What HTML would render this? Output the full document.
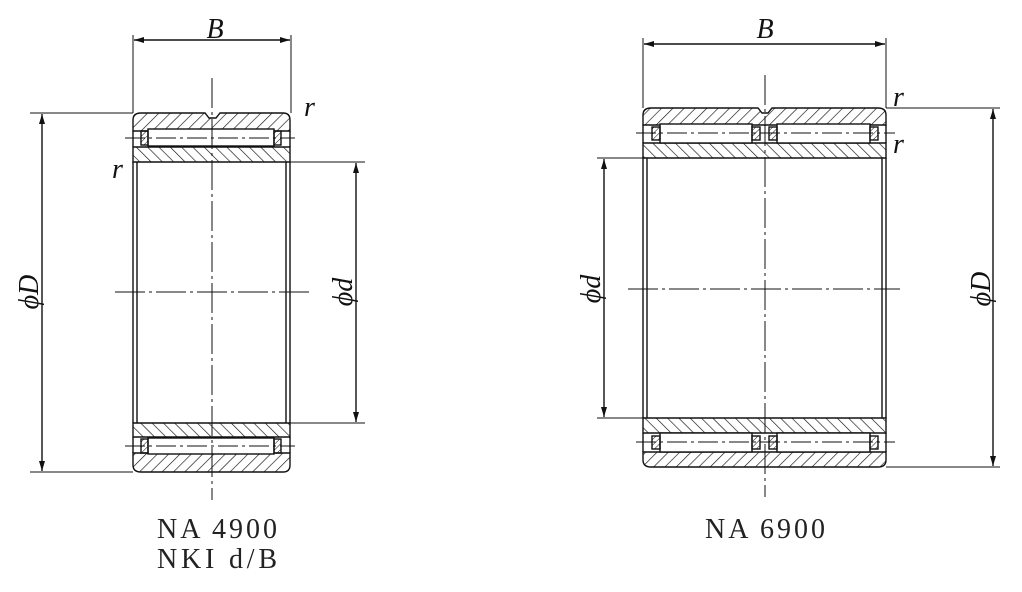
<!DOCTYPE html>
<html><head><meta charset="utf-8"><style>
html,body{margin:0;padding:0;background:#fff;}
svg{display:block;}
.it{font-family:"Liberation Serif",serif;font-style:italic;font-size:28px;fill:#111;}
.mono{font-family:"Liberation Serif",serif;font-size:28px;fill:#222;}
</style></head><body>
<svg width="1022" height="592" viewBox="0 0 1022 592" xmlns="http://www.w3.org/2000/svg">
<defs>
<pattern id="h1" patternUnits="userSpaceOnUse" width="8" height="8" patternTransform="rotate(45)">
<line x1="0" y1="0" x2="0" y2="8" stroke="#111" stroke-width="1.3"/></pattern>
<pattern id="h2" patternUnits="userSpaceOnUse" width="8" height="8" patternTransform="rotate(-45)">
<line x1="0" y1="0" x2="0" y2="8" stroke="#111" stroke-width="1.3"/></pattern>
<pattern id="h3" patternUnits="userSpaceOnUse" width="4" height="4" patternTransform="rotate(45)">
<line x1="0" y1="0" x2="0" y2="4" stroke="#111" stroke-width="1"/></pattern>
<marker id="ar" viewBox="0 0 10 6" refX="10" refY="3" markerWidth="11" markerHeight="6" orient="auto-start-reverse" markerUnits="userSpaceOnUse">
<path d="M0,0 L10,3 L0,6 z" fill="#111"/></marker>
</defs>
<g stroke="#111" stroke-width="1.4" fill="none">
<!-- LEFT BEARING -->
<path d="M141,113 H205 L209,118 H216 L220,113 H283 Q290,113 290,120 V131 H133 V120 Q133,113 141,113 Z" fill="url(#h1)"/>
<path d="M133,147 H290 V162 H133 Z" fill="url(#h2)"/>
<line x1="133" y1="131" x2="133" y2="147"/>
<line x1="290" y1="131" x2="290" y2="147"/>
<rect x="148" y="129" width="126" height="17" fill="#fff"/>
<rect x="141" y="131" width="7" height="14" fill="url(#h3)"/>
<rect x="274" y="131" width="7" height="14" fill="url(#h3)"/>
<path d="M133,423 H290 V437 H133 Z" fill="url(#h2)"/>
<line x1="133" y1="437" x2="133" y2="453"/>
<line x1="290" y1="437" x2="290" y2="453"/>
<path d="M133,453 H290 V465 Q290,472 283,472 H141 Q133,472 133,465 Z" fill="url(#h1)"/>
<rect x="148" y="438" width="126" height="16" fill="#fff"/>
<rect x="141" y="439" width="7" height="14" fill="url(#h3)"/>
<rect x="274" y="439" width="7" height="14" fill="url(#h3)"/>
<line x1="133" y1="162" x2="133" y2="423"/>
<line x1="137" y1="162" x2="137" y2="423"/>
<line x1="286" y1="162" x2="286" y2="423"/>
<line x1="290" y1="162" x2="290" y2="423"/>
</g>
<g stroke="#111" stroke-width="1" fill="none">
<line x1="212" y1="78" x2="212" y2="500" stroke-dasharray="30,4,3,4"/>
<line x1="115" y1="292" x2="310" y2="292" stroke-dasharray="30,4,3,4"/>
<line x1="125" y1="138" x2="295" y2="138" stroke-dasharray="20,4,3,4"/>
<line x1="125" y1="446" x2="295" y2="446" stroke-dasharray="20,4,3,4"/>
<line x1="133" y1="35" x2="133" y2="113"/>
<line x1="291" y1="35" x2="291" y2="113"/>
<line x1="134" y1="40" x2="290" y2="40" marker-start="url(#ar)" marker-end="url(#ar)" stroke-width="1.4"/>
<line x1="30" y1="113" x2="133" y2="113"/>
<line x1="30" y1="472" x2="133" y2="472"/>
<line x1="42" y1="114" x2="42" y2="471" marker-start="url(#ar)" marker-end="url(#ar)" stroke-width="1.4"/>
<line x1="290" y1="162" x2="365" y2="162"/>
<line x1="290" y1="423" x2="365" y2="423"/>
<line x1="356" y1="163" x2="356" y2="422" marker-start="url(#ar)" marker-end="url(#ar)" stroke-width="1.4"/>
</g>
<text class="it" x="215" y="38" text-anchor="middle">B</text>
<text class="it" x="304" y="116">r</text>
<text class="it" x="112" y="178">r</text>
<text class="it" transform="translate(38,292) rotate(-90)" text-anchor="middle">ϕD</text>
<text class="it" transform="translate(352,292) rotate(-90)" text-anchor="middle">ϕd</text>
<text class="mono" x="157" y="538" textLength="120" lengthAdjust="spacing">NA 4900</text>
<text class="mono" x="157" y="568" textLength="120" lengthAdjust="spacing">NKI d/B</text>

<!-- RIGHT BEARING -->
<g stroke="#111" stroke-width="1.4" fill="none">
<path d="M651,108 H758 L762,113 H768 L772,108 H878 Q886,108 886,115 V125 H643 V115 Q643,108 651,108 Z" fill="url(#h1)"/>
<path d="M643,143 H886 V158 H643 Z" fill="url(#h2)"/>
<line x1="643" y1="125" x2="643" y2="143"/>
<line x1="886" y1="125" x2="886" y2="143"/>
<rect x="660" y="124" width="92" height="19" fill="#fff"/>
<rect x="777" y="124" width="93" height="19" fill="#fff"/>
<rect x="652" y="127" width="8" height="13" fill="url(#h3)"/>
<rect x="752" y="127" width="8" height="13" fill="url(#h3)"/>
<rect x="769" y="127" width="8" height="13" fill="url(#h3)"/>
<rect x="870" y="127" width="8" height="13" fill="url(#h3)"/>
<path d="M643,418 H886 V433 H643 Z" fill="url(#h2)"/>
<line x1="643" y1="433" x2="643" y2="452"/>
<line x1="886" y1="433" x2="886" y2="452"/>
<path d="M643,452 H886 V460 Q886,467 878,467 H651 Q643,467 643,460 Z" fill="url(#h1)"/>
<rect x="660" y="433" width="92" height="19" fill="#fff"/>
<rect x="777" y="433" width="93" height="19" fill="#fff"/>
<rect x="652" y="436" width="8" height="13" fill="url(#h3)"/>
<rect x="752" y="436" width="8" height="13" fill="url(#h3)"/>
<rect x="769" y="436" width="8" height="13" fill="url(#h3)"/>
<rect x="870" y="436" width="8" height="13" fill="url(#h3)"/>
<line x1="643" y1="158" x2="643" y2="418"/>
<line x1="647" y1="158" x2="647" y2="418"/>
<line x1="882" y1="158" x2="882" y2="418"/>
<line x1="886" y1="158" x2="886" y2="418"/>
</g>
<g stroke="#111" stroke-width="1" fill="none">
<line x1="765" y1="75" x2="765" y2="497" stroke-dasharray="30,4,3,4"/>
<line x1="628" y1="289" x2="900" y2="289" stroke-dasharray="30,4,3,4"/>
<line x1="636" y1="133" x2="895" y2="133" stroke-dasharray="20,4,3,4"/>
<line x1="636" y1="442" x2="895" y2="442" stroke-dasharray="20,4,3,4"/>
<line x1="643" y1="38" x2="643" y2="108"/>
<line x1="886" y1="38" x2="886" y2="108"/>
<line x1="644" y1="44" x2="885" y2="44" marker-start="url(#ar)" marker-end="url(#ar)" stroke-width="1.4"/>
<line x1="886" y1="108" x2="1000" y2="108"/>
<line x1="886" y1="467" x2="1000" y2="467"/>
<line x1="993" y1="109" x2="993" y2="466" marker-start="url(#ar)" marker-end="url(#ar)" stroke-width="1.4"/>
<line x1="597" y1="158" x2="643" y2="158"/>
<line x1="597" y1="418" x2="643" y2="418"/>
<line x1="604" y1="159" x2="604" y2="417" marker-start="url(#ar)" marker-end="url(#ar)" stroke-width="1.4"/>
</g>
<text class="it" x="765" y="38" text-anchor="middle">B</text>
<text class="it" x="893" y="106">r</text>
<text class="it" x="893" y="153">r</text>
<text class="it" transform="translate(600,289) rotate(-90)" text-anchor="middle">ϕd</text>
<text class="it" transform="translate(990,289) rotate(-90)" text-anchor="middle">ϕD</text>
<text class="mono" x="705" y="538" textLength="120" lengthAdjust="spacing">NA 6900</text>
</svg>
</body></html>
